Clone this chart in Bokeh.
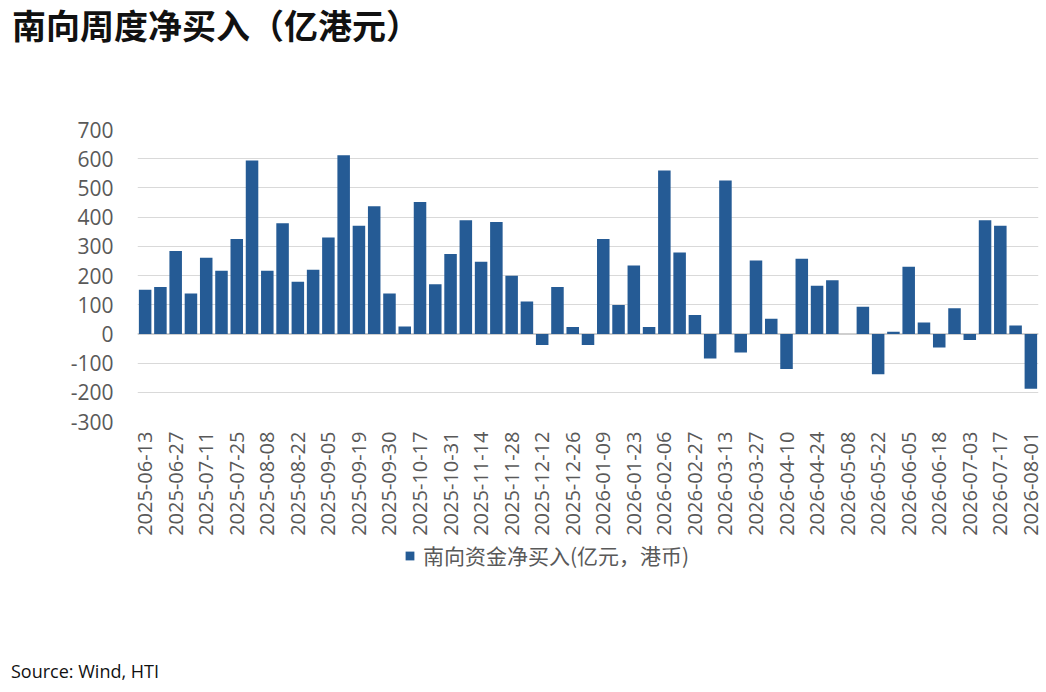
from math import pi
from bokeh.plotting import figure
from bokeh.layouts import column
from bokeh.models import (Legend, LegendItem, Span, Range1d, FixedTicker,
                          ColumnDataSource, Div)
from bokeh.embed import file_html
from bokeh.resources import INLINE

# ---- data ----
weeks = [
    "2025-06-13", "2025-06-20", "2025-06-27", "2025-07-04", "2025-07-11", "2025-07-18",
    "2025-07-25", "2025-08-01", "2025-08-08", "2025-08-15", "2025-08-22", "2025-08-29",
    "2025-09-05", "2025-09-12", "2025-09-19", "2025-09-26", "2025-09-30", "2025-10-10",
    "2025-10-17", "2025-10-24", "2025-10-31", "2025-11-07", "2025-11-14", "2025-11-21",
    "2025-11-28", "2025-12-05", "2025-12-12", "2025-12-19", "2025-12-26", "2026-01-02",
    "2026-01-09", "2026-01-16", "2026-01-23", "2026-01-30", "2026-02-06", "2026-02-13",
    "2026-02-27", "2026-03-06", "2026-03-13", "2026-03-20", "2026-03-27", "2026-04-03",
    "2026-04-10", "2026-04-17", "2026-04-24", "2026-04-30", "2026-05-08", "2026-05-15",
    "2026-05-22", "2026-05-29", "2026-06-05", "2026-06-12", "2026-06-18", "2026-06-26",
    "2026-07-03", "2026-07-10", "2026-07-17", "2026-07-24", "2026-08-01",
]

tick_labels = [
    "2025-06-13", "2025-06-27", "2025-07-11", "2025-07-25", "2025-08-08", "2025-08-22",
    "2025-09-05", "2025-09-19", "2025-09-30", "2025-10-17", "2025-10-31", "2025-11-14",
    "2025-11-28", "2025-12-12", "2025-12-26", "2026-01-09", "2026-01-23", "2026-02-06",
    "2026-02-27", "2026-03-13", "2026-03-27", "2026-04-10", "2026-04-24", "2026-05-08",
    "2026-05-22", "2026-06-05", "2026-06-18", "2026-07-03", "2026-07-17", "2026-08-01",
]

net_buy = [
    151, 161, 284, 138, 261, 216, 325, 594, 216, 379,
    179, 220, 330, 612, 370, 437, 138, 25, 452, 170,
    274, 389, 247, 383, 199, 111, -38, 161, 24, -38,
    325, 99, 234, 24, 560, 279, 65, -84, 525, -64,
    251, 52, -120, 257, 165, 184, 0, 93, -138, 7,
    230, 39, -47, 88, -21, 389, 370, 29, -188,
]

y_ticks = [-300, -200, -100, 0, 100, 200, 300, 400, 500, 600, 700]

series_name = "南向资金净买入(亿元，港币)"
title_text = "南向周度净买入（亿港元）"
source_text = "Source: Wind, HTI"

# ---- styling ----
W = 1046
BAR = "#255B95"
GRID = "#d9d9d9"
TXT = "#595959"

idx = list(range(len(weeks)))
tick_idx = [weeks.index(t) for t in tick_labels]
src = ColumnDataSource(dict(i=idx, week=weeks, flow=net_buy))

title_div = Div(text=title_text, width=W - 12, height=58, margin=(0, 0, 0, 12),
                styles={"font-family": "'Noto Sans CJK SC'", "font-size": "34px",
                        "font-weight": "bold", "color": "#111111",
                        "line-height": "50px", "padding": "0px",
                        "white-space": "nowrap"})

p = figure(width=W, height=482,
           x_range=Range1d(-0.5, len(weeks) - 0.5),
           y_range=Range1d(y_ticks[0], y_ticks[-1]),
           output_backend="svg", toolbar_location=None,
           min_border_left=137, min_border_right=8,
           min_border_top=71, min_border_bottom=119)

r = p.vbar(x="i", top="flow", width=0.82, source=src,
           fill_color=BAR, line_color=None)

p.outline_line_color = None
p.background_fill_color = "white"
p.border_fill_color = "white"

p.xgrid.grid_line_color = None
p.ygrid.ticker = FixedTicker(ticks=y_ticks)
p.ygrid.grid_line_color = GRID
p.ygrid.grid_line_width = 1.2
p.ygrid.level = "underlay"

zero = Span(location=0, dimension="width", line_color="#cfcfcf", line_width=2, level="underlay")
p.add_layout(zero)

ya = p.yaxis[0]
ya.ticker = FixedTicker(ticks=y_ticks)
ya.axis_line_color = None
ya.major_tick_line_color = None
ya.minor_tick_line_color = None
ya.major_tick_out = 0
ya.major_tick_in = 0
ya.major_label_standoff = 24
ya.major_label_text_font = "Open Sans"
ya.major_label_text_font_size = "21px"
ya.major_label_text_color = TXT
ya.major_label_overrides = {t: str(t) for t in y_ticks}

xa = p.xaxis[0]
xa.ticker = FixedTicker(ticks=tick_idx)
xa.axis_line_color = None
xa.major_tick_line_color = None
xa.minor_tick_line_color = None
xa.major_tick_out = 0
xa.major_tick_in = 0
xa.major_label_standoff = 10
xa.major_label_orientation = pi / 2
xa.major_label_text_font = "Open Sans"
xa.major_label_text_font_size = "20px"
xa.major_label_text_color = TXT
xa.major_label_overrides = {i: t for i, t in zip(tick_idx, tick_labels)}

# legend strip: a small figure whose frame is aligned with the chart's frame
pl = figure(width=W, height=40, x_range=Range1d(0, 1), y_range=Range1d(0, 1),
            output_backend="svg", toolbar_location=None,
            min_border_left=0, min_border_right=0, min_border_top=0, min_border_bottom=0)
pl.axis.visible = False
pl.grid.visible = False
pl.outline_line_color = None
pl.background_fill_color = "white"
pl.border_fill_color = "white"
swatch = pl.vbar(x="i", top="flow", width=0.82, source=src,
                 fill_color=BAR, line_color=None)
swatch.visible = False

legend = Legend(items=[LegendItem(label=series_name, renderers=[swatch])],
                location=(267, 10), orientation="horizontal",
                padding=0, margin=0, spacing=0,
                glyph_width=11, glyph_height=11, label_standoff=8,
                label_text_font="Noto Sans CJK SC",
                label_text_font_size="21px", label_text_color=TXT,
                inactive_fill_alpha=0,
                border_line_color=None, background_fill_alpha=0)
pl.add_layout(legend, "center")

source_div = Div(text=source_text, width=W - 11, height=100, margin=(0, 0, 0, 11),
                 styles={"font-family": "'Open Sans'", "font-size": "18px",
                         "color": "#111111", "line-height": "24px",
                         "padding-top": "79px", "white-space": "nowrap"})

layout = column(title_div, p, pl, source_div, spacing=0)

open("out.html", "w").write(file_html(layout, INLINE))
